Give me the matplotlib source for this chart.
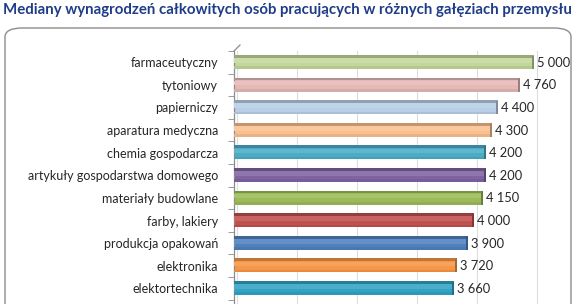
import matplotlib
matplotlib.use("Agg")
from matplotlib import pyplot as plt
from matplotlib.patches import FancyBboxPatch
from matplotlib.colors import to_rgb
import matplotlib.transforms as mtransforms

# -------------------------------------------------------------------------------------------------
tytul = "Mediany wynagrodzeń całkowitych osób pracujących w różnych gałęziach przemysłu"
branze = ["farmaceutyczny", "tytoniowy", "papierniczy", "aparatura medyczna",
          "chemia gospodarcza", "artykuły gospodarstwa domowego", "materiały budowlane",
          "farby, lakiery", "produkcja opakowań", "elektronika", "elektortechnika"]
mediany = [5000, 4760, 4400, 4300, 4200, 4200, 4150, 4000, 3900, 3720, 3660]
kolory = ["#C4D79B", "#E6B9B8", "#B9CDE5", "#FABF8F", "#4BACC6", "#8064A2",
          "#9BBB59", "#C0504D", "#4F81BD", "#F79646", "#31A3C4"]
siatka_x = [0, 1000, 2000, 3000, 4000, 5000]

plt.rcParams["font.family"] = ["Lato", "DejaVu Sans"]

W, H = 577, 304
fig = plt.figure(figsize=(W / 100, H / 100), dpi=100)

def px(x, y):
    return x / W, 1 - y / H

# ramka wykresu
ramka = FancyBboxPatch(px(5, 330), (571 - 5) / W, (330 - 28) / H,
                       boxstyle="round,pad=0,rounding_size=0.03",
                       transform=fig.transFigure, facecolor="white",
                       edgecolor="#8C8C8C", linewidth=1.0, zorder=-5)
fig.patches.append(ramka)

fig.text(3 / W, 1 - 10 / H, tytul, fontsize=10.85, fontweight="bold",
         color="#1F3C88", va="center", ha="left")

# -------------------------------------------------------------------------------------------------
x0, x1 = 234, 566
y0, y1 = 51, 304
skala = 60.0  # px na 1000
ax = fig.add_axes([x0 / W, 1 - y1 / H, (x1 - x0) / W, (y1 - y0) / H])
ax.set_zorder(2)
ax.set_xlim(0, (x1 - x0) / skala * 1000)
ax.set_ylim(-0.5 + (y1 - y0) / 22.6, -0.5)
ax.patch.set_alpha(0)

off = mtransforms.offset_copy(ax.transData, fig=fig, x=3, y=3, units="dots")
for g in siatka_x:
    ax.plot([g, g], [-0.5, 12], color="#DDDDDD", lw=0.8, transform=off, zorder=0,
            clip_on=True)

def ciemniej(c, f):
    r, g, b = to_rgb(c)
    return (r * f, g * f, b * f)

def jasniej(c, f):
    r, g, b = to_rgb(c)
    return (r + (1 - r) * f, g + (1 - g) * f, b + (1 - b) * f)

h = 0.5
for i, (v, c) in enumerate(zip(mediany, kolory)):
    ax.barh(i + 0.05, v, height=h, color=c, left=0, zorder=2)
    ax.barh(i - 0.08, v, height=0.2, color=jasniej(c, 0.12), zorder=3)
    ax.barh(i + 0.24, v, height=0.12, color=ciemniej(c, 0.93), zorder=3)
    ax.barh(i - h / 2 - 0.01, v, height=0.13, color=ciemniej(c, 0.78), zorder=3)
    ax.barh(i + 0.0, 35, left=v - 35, height=h + 0.1, color=ciemniej(c, 0.68), zorder=4)
    ax.text(v + 55, i + 0.02, f"{v:,}".replace(",", " "), va="center", ha="left",
            fontsize=9.3, color="#262626")

ax.set_yticks(range(len(branze)))
ax.set_yticklabels(branze, fontsize=9, color="#262626")
ax.tick_params(axis="y", which="major", length=0, pad=11.5)
ax.set_yticks([i - 0.5 for i in range(12)], minor=True)
ax.tick_params(axis="y", which="minor", length=4, color="#8C8C8C", direction="out")
ax.set_xticks([])
for s in ["top", "right", "bottom"]:
    ax.spines[s].set_visible(False)
ax.spines["left"].set_color("#8C8C8C")
ax.spines["left"].set_linewidth(0.9)

# skos tylnej sciany
fig.add_artist(plt.Line2D([234 / W, 240 / W], [1 - 51 / H, 1 - 45 / H],
                          color="#8C8C8C", lw=0.9, transform=fig.transFigure))

plt.savefig("out.png", dpi=100)
